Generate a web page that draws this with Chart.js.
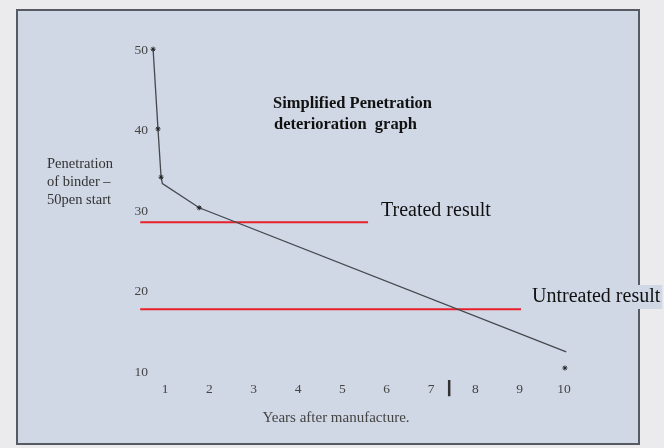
<!DOCTYPE html>
<html>
<head>
<meta charset="utf-8">
<script src="https://cdn.jsdelivr.net/npm/chart.js@4"></script>
<style>
  html, body { margin: 0; padding: 0; background: #ebebee; }
  #wrap { position: relative; width: 664px; height: 448px; }
  #panel {
    position: absolute; left: 16px; top: 9px; width: 620px; height: 432px;
    background: #d0d7e5; border: 2px solid #555a63;
  }
  #chart { position: absolute; left: 0; top: 0; }
</style>
</head>
<body>
<div id="wrap">
  <div id="panel"></div>
  <canvas id="chart" width="664" height="448"></canvas>
</div>
<script>
// ------------------------------------------------------------
// DATA
// ------------------------------------------------------------
const years       = [0.73, 0.84, 0.91, 0.94, 1.77, 10.05];
const penetration = [50.1, 40.2, 34.2, 33.4, 30.4, 12.5];
const hasStar     = [true, true, true, false, true, false];

const lonelyStar  = { x: 10.02, y: 10.5 };

const treatedX    = [0.44, 5.58];
const treatedY    = 28.6;
const untreatedX  = [0.44, 9.03];
const untreatedY  = 17.8;

const markerX     = 7.41;          // dicker Strich zwischen 7 und 8
const markerY     = [9.0, 7.0];

const xTicks      = [1, 2, 3, 4, 5, 6, 7, 8, 9, 10];
const yTicks      = [10, 20, 30, 40, 50];

// ------------------------------------------------------------
// HELFER
// ------------------------------------------------------------
const SERIF = "'Liberation Serif', 'DejaVu Serif', serif";

function flatLine(xs, y) {
  return xs.map(x => ({ x, y }));
}

// Texte (Titel, Achsentitel, Beschriftungen der roten Linien)
const labelsPlugin = {
  id: "labels",
  afterDraw(chart) {
    const ctx = chart.ctx;
    ctx.save();
    ctx.textBaseline = "middle";

    // Titel
    ctx.fillStyle = "#111";
    ctx.font = "bold 16.5px " + SERIF;
    ctx.textAlign = "left";
    ctx.fillText("Simplified Penetration", 273, 104);
    ctx.fillText("deterioration  graph", 274, 125);

    // Y-Achsentitel
    ctx.fillStyle = "#333";
    ctx.font = "14.5px " + SERIF;
    ctx.fillText("Penetration", 47, 164);
    ctx.fillText("of binder \u2013", 47, 182);
    ctx.fillText("50pen start", 47, 200);

    // X-Achsentitel
    ctx.textAlign = "center";
    ctx.fillStyle = "#444";
    ctx.font = "15px " + SERIF;
    ctx.fillText("Years after manufacture.", 336, 418);

    // rote Linien beschriften
    ctx.textAlign = "left";
    ctx.fillStyle = "#111";
    ctx.font = "20px " + SERIF;
    ctx.fillText("Treated result", 381, 211);
    const w = ctx.measureText("Untreated result").width;
    ctx.fillStyle = "#d0d7e5";
    ctx.fillRect(530, 285, w + 4, 24);
    ctx.fillStyle = "#111";
    ctx.fillText("Untreated result", 532, 297);
    ctx.restore();
  }
};

// ------------------------------------------------------------
// CHART
// ------------------------------------------------------------
new Chart(document.getElementById("chart"), {
  type: "scatter",
  data: {
    datasets: [
      {
        label: "Penetration",
        data: years.map((x, i) => ({ x, y: penetration[i] })),
        showLine: true,
        borderColor: "#45484d",
        borderWidth: 1.3,
        pointStyle: "star",
        pointRadius: hasStar.map(s => (s ? 2.5 : 0)),
        pointBorderColor: "#222",
        pointBorderWidth: 1,
        clip: false
      },
      {
        label: "Star",
        data: [lonelyStar],
        pointStyle: "star",
        pointRadius: 2.5,
        pointBorderColor: "#222",
        pointBorderWidth: 1,
        clip: false
      },
      {
        label: "Treated",
        data: flatLine(treatedX, treatedY),
        showLine: true,
        borderColor: "#e8202a",
        borderWidth: 2,
        pointRadius: 0,
        clip: false
      },
      {
        label: "Untreated",
        data: flatLine(untreatedX, untreatedY),
        showLine: true,
        borderColor: "#e8202a",
        borderWidth: 2,
        pointRadius: 0,
        clip: false
      },
      {
        label: "Marker",
        data: markerY.map(y => ({ x: markerX, y })),
        showLine: true,
        borderColor: "#333",
        borderWidth: 2.5,
        pointRadius: 0,
        clip: false
      }
    ]
  },
  options: {
    responsive: false,
    animation: false,
    layout: { padding: { top: 50, right: 100, bottom: 0, left: 0 } },
    plugins: {
      legend: { display: false },
      tooltip: { enabled: false }
    },
    scales: {
      x: {
        type: "linear",
        min: 0.66,
        max: 10,
        grid: { display: false, drawTicks: false },
        border: { display: false },
        afterBuildTicks: s => { s.ticks = xTicks.map(v => ({ value: v })); },
        afterFit: s => { s.height = 76; },
        ticks: {
          padding: 9,
          color: "#444",
          font: { family: SERIF, size: 13.5 }
        }
      },
      y: {
        type: "linear",
        min: 10,
        max: 50,
        grid: { display: false, drawTicks: false },
        border: { display: false },
        afterBuildTicks: s => { s.ticks = yTicks.map(v => ({ value: v })); },
        afterFit: s => { s.width = 150; },
        ticks: {
          padding: 2,
          color: "#444",
          font: { family: SERIF, size: 13.5 }
        }
      }
    }
  },
  plugins: [labelsPlugin]
});
</script>
</body>
</html>
